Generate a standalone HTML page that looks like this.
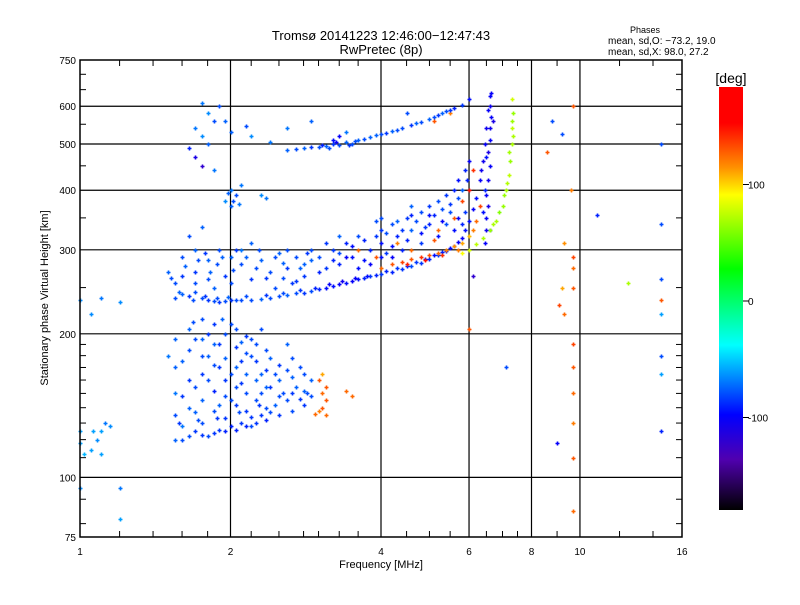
<!DOCTYPE html>
<html><head><meta charset="utf-8"><style>
body{margin:0;background:#fff;font-family:"Liberation Sans",sans-serif}
svg text{font-family:"Liberation Sans",sans-serif;fill:#000}
</style></head><body>
<svg id="chart" width="800" height="600" xmlns="http://www.w3.org/2000/svg">
<rect width="800" height="600" fill="#fff"/>
<text x="381" y="40" font-size="13" text-anchor="middle">Tromsø 20141223 12:46:00−12:47:43</text>
<text x="381" y="54" font-size="13" text-anchor="middle">RwPretec (8p)</text>
<text x="645" y="33" font-size="9" text-anchor="middle">Phases</text>
<text x="608" y="44" font-size="10">mean, sd,O: −73.2, 19.0</text>
<text x="608" y="55" font-size="10">mean, sd,X:  98.0, 27.2</text>
<g id="grid"></g>
<g id="marks"></g>
<rect x="80" y="60" width="602" height="477" fill="none" stroke="#000" stroke-width="1.5"/>
<g id="ticks"></g>
<text x="381" y="568" font-size="11" text-anchor="middle">Frequency [MHz]</text>
<text transform="translate(48,298) rotate(-90)" font-size="11" text-anchor="middle">Stationary phase Virtual Height [km]</text>
<defs><linearGradient id="cbg" x1="0" y1="0" x2="0" y2="1">
<stop offset="0" stop-color="#ff0000"/><stop offset="0.085" stop-color="#ff0000"/><stop offset="0.19" stop-color="#ff9000"/><stop offset="0.255" stop-color="#ffff00"/><stop offset="0.43" stop-color="#00ff00"/><stop offset="0.61" stop-color="#00ffff"/><stop offset="0.775" stop-color="#0000ff"/><stop offset="0.88" stop-color="#5000b0"/><stop offset="1" stop-color="#000000"/>
</linearGradient></defs>
<rect x="719" y="87" width="24" height="423" fill="url(#cbg)"/>
<text x="731" y="83" font-size="14" text-anchor="middle">[deg]</text>
<g id="cbticks"></g>
</svg>
<script>
const NS="http://www.w3.org/2000/svg";
const xTickVals=[1,2,4,6,8,10,16];
const yTickVals=[75,100,200,300,400,500,600,750];
const xGrid=[2,4,6,8,10];
const yGrid=[100,200,300,400,500,600];
const cbTickVals=[100,0,-100];
const oTrace=[[1.55,238,-80],[1.6,242,-75],[1.65,240,-85],[1.7,245,-80],[1.75,238,-80],[1.8,236,-85],[1.85,234,-80],[1.9,233,-85],[1.95,234,-80],[2.0,235,-85],[2.05,236,-80],[2.1,235,-80],[2.2,236,-80],[2.3,237,-75],[2.4,238,-80],[2.5,240,-80],[2.6,241,-75],[2.7,243,-80],[2.8,244,-85],[2.9,246,-80],[3.0,248,-90],[3.1,250,-95],[3.2,252,-95],[3.3,254,-100],[3.4,256,-95],[3.5,258,-100],[3.6,260,-95],[3.7,262,-90],[3.8,264,-85],[3.9,266,-90],[4.0,267,-85],[4.2,270,-90],[4.4,274,-85],[4.6,278,-80],[4.8,282,-85],[5.0,287,-90],[5.2,292,-85],[5.4,298,-90],[5.6,305,-95],[5.8,318,-100],[5.9,330,-95],[6.0,345,-95],[6.1,365,-100],[6.2,385,-95],[6.3,420,-100],[6.4,460,-105],[6.45,500,-100],[6.5,540,-105],[6.55,590,-100],[6.6,630,-100],
[6.45,310,-100],[6.5,330,-105],[6.5,350,-100],[6.55,370,-110],[6.5,390,-100],[6.55,420,-105],[6.6,450,-100],[6.55,480,-110],[6.6,510,-100],[6.6,540,-105],[6.65,570,-100],[6.6,600,-105],[6.65,640,-100],
[1.58,245,-75],[1.68,236,-80],[1.78,240,-85],[1.88,238,-80],[1.98,239,-75],[2.15,240,-80],[2.35,241,-85],[2.55,244,-80],[2.75,247,-85],[2.95,250,-90],[3.15,254,-100],[3.35,258,-105],[3.55,262,-100],[3.75,265,-95],[4.1,271,-90],[4.3,275,-85],[4.5,278,-90],[4.7,283,-85],[4.9,287,-90],[5.1,292,-95],[5.3,297,-90],[5.5,303,-95],[5.7,312,-100],[6.35,440,-105],[6.5,470,-95],[6.7,560,-110],[6.45,400,-90],[6.4,360,-95],[6.6,330,-100]];
const xTrace=[[4.0,275,125],[4.2,280,130],[4.4,283,135],[4.6,287,130],[4.8,290,140],[5.0,293,130],[5.2,296,125],[5.4,300,120],[5.6,305,115],[5.8,310,110],[6.0,320,105],[6.1,330,120],[6.2,345,125],[6.3,370,135],[4.9,285,150],[5.3,292,140],[5.7,300,120],[4.5,280,145],
[5.8,295,90],[6.0,300,80],[6.2,308,75],[6.4,318,70],[6.6,330,65],[6.8,345,70],[7.0,370,65],[7.1,400,70],[7.2,430,75],[7.25,460,65],[7.3,500,70],[7.3,540,75],[7.35,580,65],[7.3,620,80],[6.9,360,60],[7.05,390,65],[6.7,340,70],[7.15,415,72],[7.2,480,68],[7.35,520,70],[7.3,560,66],
[5.2,330,125],[5.6,350,130],[5.8,380,135],[6.0,400,150],[6.1,440,140],[3.6,300,125],[3.9,290,130],[4.3,310,120],[4.6,300,125],[5.1,315,130]];
const spreadF=[[3.0,290,-80],[3.2,300,-85],[3.4,310,-90],[3.5,290,-95],[3.6,320,-80],[3.8,300,-90],[4.0,330,-85],[4.0,310,-95],[4.2,340,-80],[4.3,320,-90],[4.5,350,-85],[4.6,330,-75],[4.8,360,-80],[5.0,370,-85],[5.2,380,-80],[5.4,390,-85],[5.6,400,-90],[5.7,420,-95],[5.9,440,-90],[6.0,460,-100],[4.4,300,-90],[4.8,310,-85],[5.2,320,-95],[5.4,340,-80],[3.3,280,-90],[3.7,285,-95],[4.1,295,-85],[2.8,280,-75],[3.9,345,-80],[4.6,370,-75],[5.0,340,-90],[5.5,360,-80],
[1.5,270,-75],[1.6,290,-80],[1.7,300,-75],[1.7,270,-85],[1.8,260,-80],[1.8,285,-75],[1.9,300,-80],[1.95,265,-85],[2.0,290,-75],[2.1,280,-80],[2.1,300,-70],[2.2,260,-85],[2.3,285,-75],[2.4,270,-80],[2.5,295,-75],[2.6,275,-85],[2.7,290,-80],[2.8,265,-85],[2.9,285,-75],[3.0,270,-90],[1.55,255,-80],[2.2,310,-75],[1.65,320,-80],[1.75,335,-75],[2.45,250,-80],[2.65,255,-85]];
const spreadF2=[[3.1,275,-85],[3.3,295,-80],[3.5,305,-95],[3.7,315,-90],[3.9,320,-85],[4.1,325,-80],[4.2,305,-95],[4.4,330,-85],[4.5,315,-90],[4.7,345,-80],[4.9,335,-85],[5.1,355,-90],[5.3,365,-80],[5.5,375,-85],[5.7,385,-80],[5.8,400,-75],[5.95,420,-90],[3.4,290,-100],[3.6,275,-95],[3.8,280,-100],[4.0,290,-95],[4.2,290,-100],[3.2,285,-90],[2.9,300,-80],[3.1,310,-85],[3.3,320,-75],[4.6,355,-90],[5.0,355,-95],[5.3,345,-100],[5.6,330,-95],[5.8,340,-90],[5.9,360,-85],[5.7,350,-100],[4.8,325,-95],[4.3,345,-75],[4.0,350,-80],
[1.52,262,-80],[1.6,265,-85],[1.62,278,-75],[1.72,285,-80],[1.78,295,-85],[1.82,270,-75],[1.88,280,-80],[1.92,290,-75],[2.02,272,-80],[2.05,300,-85],[2.15,290,-75],[2.25,275,-80],[2.28,300,-80],[2.35,262,-85],[2.45,290,-80],[2.55,282,-75],[2.6,300,-80],[2.75,275,-75],[2.85,295,-85],[2.55,262,-80],[2.0,255,-80],[1.85,250,-75],[1.7,255,-80],[2.7,258,-85]];
const echo2=[[2.6,485,-75],[2.8,490,-75],[3.0,492,-80],[3.1,495,-75],[3.2,500,-85],[3.3,497,-80],[3.4,505,-75],[3.5,500,-80],[3.6,510,-75],[3.7,513,-80],[3.8,518,-75],[4.0,525,-80],[4.2,532,-75],[4.4,540,-80],[4.6,548,-85],[4.8,556,-80],[5.0,565,-75],[5.2,575,-85],[5.4,585,-80],[5.6,595,-90],[5.8,605,-85],[6.0,620,-95],[3.2,510,-95],[3.3,520,-100],[2.4,505,-70],[2.2,520,-65],[2.0,530,-75],[2.6,540,-70],[2.9,560,-75],[3.4,530,-70],[4.5,580,-80],[5.1,560,130],[5.5,580,120],
[2.7,488,-80],[2.9,492,-85],[3.05,498,-90],[3.15,490,-80],[3.25,505,-100],[3.45,498,-85],[3.55,507,-80],[3.9,522,-75],[4.1,528,-85],[4.3,536,-80],[4.7,552,-75],[5.1,570,-80],[5.3,580,-75],[5.5,590,-85]];
const scatterHigh=[[1.75,610,-70],[1.8,580,-65],[1.85,560,-80],[1.7,540,-70],[1.75,520,-65],[1.8,500,-75],[1.7,470,-110],[1.75,450,-120],[1.85,440,-70],[1.9,600,-80],[1.95,560,-75],[2.0,400,-70],[2.05,390,-80],[1.95,380,-65],[2.1,410,-70],[2.0,370,-75],[2.3,390,-65],[2.35,385,-70],[2.15,545,-80],[1.65,490,-90],[1.98,395,-75],[2.02,380,-80],[2.08,375,-70]];
const eRegion=[[1.55,120,-75],[1.55,135,-80],[1.55,150,-70],[1.55,170,-75],[1.65,122,-80],[1.65,140,-75],[1.65,160,-85],[1.65,185,-80],[1.65,205,-75],[1.75,123,-85],[1.75,130,-80],[1.75,145,-75],[1.75,165,-85],[1.75,180,-80],[1.75,195,-75],[1.75,215,-80],[1.85,124,-85],[1.85,138,-80],[1.85,152,-90],[1.85,172,-80],[1.85,190,-75],[1.85,210,-85],[1.95,125,-90],[1.95,133,-85],[1.95,148,-80],[1.95,160,-85],[1.95,178,-75],[1.95,200,-80],[2.05,126,-90],[2.05,142,-85],[2.05,155,-80],[2.05,170,-75],[2.05,188,-85],[2.05,205,-80],[2.15,128,-90],[2.15,138,-85],[2.15,150,-80],[2.15,165,-75],[2.15,182,-80],[2.15,198,-85],[2.25,130,-85],[2.25,145,-80],[2.25,160,-75],[2.25,175,-85],[2.25,190,-80],[2.35,132,-90],[2.35,140,-80],[2.35,155,-75],[2.35,168,-85],[2.35,185,-80],[2.5,135,-85],[2.5,148,-80],[2.5,160,-75],[2.5,172,-85],[2.65,138,-80],[2.65,150,-85],[2.65,162,-75],[2.65,178,-80],[2.8,142,-85],[2.8,152,-75],[2.8,165,-80],[2.9,148,-80],[2.9,160,-75],[1.6,128,-70],[1.7,155,-80],[1.8,200,-85],[1.9,142,-75],[2.0,165,-80],[2.1,192,-75],[2.2,134,-85],[2.3,150,-80],[2.45,142,-75],[2.6,168,-80],[2.75,146,-85],
[3.0,160,130],[3.05,150,125],[3.1,155,130],[3.05,140,130],[3.1,135,125],[3.0,138,120],[3.05,165,110],[3.4,152,125],[3.5,148,125],[3.1,145,130],[2.95,136,125]];
const eRegion2=[[1.6,120,-80],[1.7,125,-85],[1.8,122,-80],[1.9,126,-85],[2.0,128,-90],[2.1,130,-85],[2.2,128,-80],[2.3,135,-85],[2.4,137,-80],[1.6,148,-85],[1.7,137,-75],[1.8,160,-80],[1.9,170,-85],[2.0,145,-80],[2.1,158,-85],[2.2,180,-80],[2.3,165,-75],[2.4,155,-85],[2.55,150,-80],[2.7,155,-75],[2.85,150,-80],[1.6,175,-75],[1.7,195,-80],[1.8,180,-75],[1.9,190,-85],[2.0,210,-80],[2.1,175,-85],[2.2,195,-80],[2.4,178,-75],[2.45,165,-80],[1.5,180,-70],[1.55,195,-75],[1.68,212,-80],[1.92,215,-75],[2.3,205,-80],[2.6,190,-75],[1.58,130,-85],[1.72,132,-80],[1.88,133,-85],[2.08,137,-80],[2.28,142,-85],[2.6,145,-80],[2.75,170,-80]];
const scatterOther=[[1.0,118,-60],[1.05,114,-60],[1.08,120,-65],[1.1,125,-60],[1.12,130,-70],[1.15,128,-65],[1.0,95,-65],[1.2,95,-70],[1.2,82,-60],[1.0,235,-65],[1.05,220,-65],[1.1,238,-70],[1.2,233,-65],[1.02,112,-55],[1.06,125,-60],[1.1,112,-60],[1.0,125,-60],
[9.7,85,125],[9.7,110,130],[9.7,130,120],[9.7,150,125],[9.7,170,130],[9.7,190,135],[9.7,250,130],[9.7,275,125],[9.7,290,135],[9.6,400,120],[9.7,600,130],[9.3,310,115],[9.2,250,110],[9.1,230,135],[9.3,220,125],[9.0,118,-100],[8.8,560,-80],[8.6,480,130],[9.2,525,-80],[10.8,355,-90],[12.5,255,70],[14.5,500,-80],[14.5,340,-80],[14.5,260,-80],[14.5,220,-60],[14.5,180,-80],[14.5,165,-60],[14.5,125,-90],[14.5,235,130],[6.0,205,130],[7.1,170,-80],[6.1,265,-120]];

function X(f){return 80+150.5*Math.log2(f);}
function Y(h){return 537-477*Math.log10(h/75);}
function el(tag,attrs,parent){const e=document.createElementNS(NS,tag);for(const k in attrs)e.setAttribute(k,attrs[k]);parent.appendChild(e);return e;}
function cbY(p){const q=Math.max(-180,Math.min(183,p));return 301-q*1.165;}
const stops=[[0,[255,0,0]],[0.085,[255,0,0]],[0.19,[255,144,0]],[0.255,[255,255,0]],[0.43,[0,255,0]],[0.61,[0,255,255]],[0.775,[0,0,255]],[0.88,[80,0,176]],[1,[0,0,0]]];
function color(p){const t=(cbY(p)-87)/423;for(let i=0;i<stops.length-1;i++){if(t<=stops[i+1][0]){const u=(t-stops[i][0])/(stops[i+1][0]-stops[i][0]||1);const c=stops[i][1].map((v,j)=>Math.round(v+u*(stops[i+1][1][j]-v)));return `rgb(${c})`;}}return 'rgb(0,0,0)';}

const grid=document.getElementById('grid');
xGrid.forEach(f=>{const l=el('line',{x1:X(f),x2:X(f),y1:60,y2:537,stroke:'#000','stroke-width':1.2},grid);

});
yGrid.forEach(h=>{const l=el('line',{x1:80,x2:682,y1:Y(h),y2:Y(h),stroke:'#000','stroke-width':1.2},grid);

});

const marks=document.getElementById('marks');
[oTrace,xTrace,spreadF,spreadF2,echo2,scatterHigh,eRegion,eRegion2,scatterOther].forEach(arr=>arr.forEach(d=>{
 const x=Math.round(X(d[0]))+0.5,y=Math.round(Y(d[1]))+0.5;
 const p=el('path',{d:`M${x-2},${y}H${x+2}M${x},${y-2}V${y+2}`,stroke:color(d[2]),'stroke-width':1.6,fill:'none'},marks);
 
 
}));

const ticks=document.getElementById('ticks');
xTickVals.forEach(f=>{const t=el('text',{x:X(f),y:555,'font-size':10,'text-anchor':'middle'},ticks);t.textContent=f;

});
yTickVals.forEach(h=>{const t=el('text',{x:76,y:Y(h)+4,'font-size':10,'text-anchor':'end'},ticks);t.textContent=h;

});
const minorX=[1.2,1.4,1.6,1.8,2.2,2.5,2.8,3,3.3,3.6,4.5,5,5.5,6.5,7,7.5,9,12,14];
minorX.forEach(f=>{[[537,531],[60,66]].forEach(([a,b])=>{el('line',{x1:X(f),x2:X(f),y1:a,y2:b,stroke:'#000'},ticks);});});
const minorY=[80,90,110,120,130,140,150,160,170,180,190,250,350,450,550,650,700];
minorY.forEach(h=>{[[80,86],[682,676]].forEach(([a,b])=>{el('line',{x1:a,x2:b,y1:Y(h),y2:Y(h),stroke:'#000'},ticks);});});

const cbt=document.getElementById('cbticks');
cbTickVals.forEach(v=>{const y=cbY(v);el('line',{x1:743,x2:749,y1:y,y2:y,stroke:'#000'},cbt);
const t=el('text',{x:748,y:y+4,'font-size':10},cbt);t.textContent=v;

});
</script>
</body></html>
